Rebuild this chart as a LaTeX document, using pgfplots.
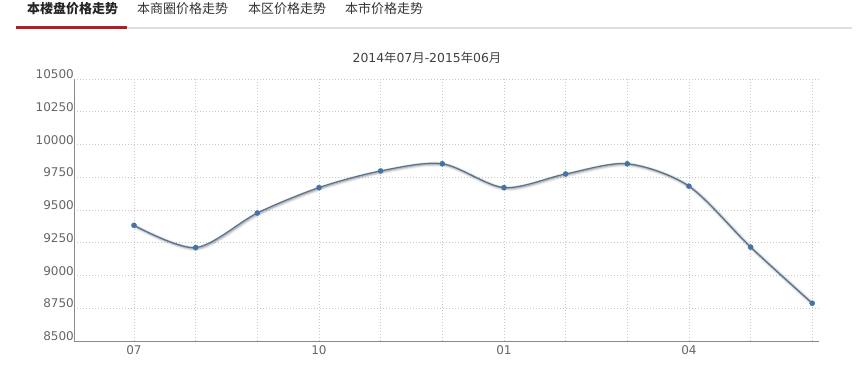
\documentclass[border=0pt]{standalone}
\usepackage{fontspec}
\usepackage{pgfplots}
\pgfplotsset{compat=1.18}
\setmainfont{DejaVu Sans}
\newfontfamily\cjk{Noto Sans CJK SC}
\definecolor{linec}{HTML}{5A7391}
\definecolor{markc}{HTML}{4572A7}
\definecolor{gridc}{HTML}{C8C8C8}
\definecolor{axisc}{HTML}{8A8A8A}
\definecolor{labc}{HTML}{666666}
\definecolor{tabred}{HTML}{B01E23}
\pgfplotstableread{
x y
0 9383
1 9213
2 9477
3 9671
4 9798
5 9853
6 9671
7 9775
8 9853
9 9682
10 9217
11 8788
}\prices
\begin{document}
\begin{tikzpicture}
\path[use as bounding box] (0pt,0pt) rectangle (864pt,390pt);
% header tabs
\draw[line width=1.5pt, draw=black!13] (16pt,362pt) -- (852pt,362pt);
\draw[line width=2.5pt, draw=tabred] (16pt,362.3pt) -- (127pt,362.3pt);
\node[anchor=base west, inner sep=0pt, font=\cjk\bfseries\fontsize{13}{15}\selectfont, text=black!85] at (27pt,376pt) {本楼盘价格走势};
\node[anchor=base west, inner sep=0pt, font=\cjk\fontsize{13}{15}\selectfont, text=black!80] at (137pt,376pt) {本商圈价格走势};
\node[anchor=base west, inner sep=0pt, font=\cjk\fontsize{13}{15}\selectfont, text=black!80] at (248pt,376pt) {本区价格走势};
\node[anchor=base west, inner sep=0pt, font=\cjk\fontsize{13}{15}\selectfont, text=black!80] at (345pt,376pt) {本市价格走势};
% title
\node[anchor=base, inner sep=0pt, font=\fontsize{12.4}{14}\selectfont, text=black!75] at (427pt,327pt) {2014{\cjk 年}07{\cjk 月}-2015{\cjk 年}06{\cjk 月}};
\begin{axis}[
  at={(74pt,49pt)}, anchor=south west,
  scale only axis, width=745pt, height=262pt,
  xmin=-0.973, xmax=11.11, ymin=8500, ymax=10500,
  axis x line=bottom, axis y line=left,
  axis line style={draw=axisc, line width=0.8pt, -},
  xtick={0,...,11},
  xticklabels={07,,,10,,,01,,,04,,},
  ytick={8500,8750,...,10500},
  scaled y ticks=false,
  yticklabel style={anchor=south east, inner sep=0pt, xshift=0pt, font=\fontsize{12}{14}\selectfont, text=labc},
  xticklabel style={anchor=north, inner sep=0pt, yshift=-4pt, font=\fontsize{12}{14}\selectfont, text=labc},
  yticklabel={\pgfmathprintnumber[fixed, precision=0, 1000 sep={}, assume math mode=true]{\tick}},
  major tick length=0pt,
  grid=major,
  major grid style={draw=gridc, line width=0.7pt, dash pattern=on 1pt off 2pt},
  clip=false,
]
\addplot[smooth, tension=0.5, no marks, draw=black, opacity=0.05, line width=5pt, xshift=1pt, yshift=-1pt] table {\prices};
\addplot[smooth, tension=0.5, no marks, draw=black, opacity=0.1, line width=3pt, xshift=1pt, yshift=-1pt] table {\prices};
\addplot[smooth, tension=0.5, no marks, draw=black, opacity=0.15, line width=1pt, xshift=1pt, yshift=-1pt] table {\prices};
\addplot[smooth, tension=0.5, draw=linec, line width=1.3pt, no marks] table {\prices};
\addplot[only marks, mark=*, mark size=2.6pt, mark options={solid, draw=markc, fill=markc, line width=0.3pt}] table {\prices};
\end{axis}
\end{tikzpicture}
\end{document}
